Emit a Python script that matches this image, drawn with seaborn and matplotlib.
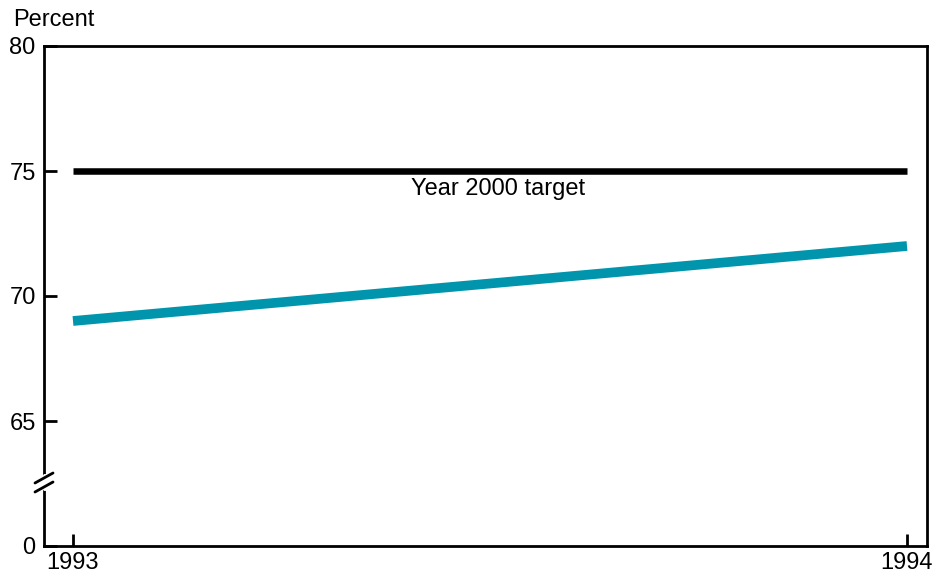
import numpy as np
import pandas as pd
from matplotlib import pyplot as plt
from matplotlib.lines import Line2D
import seaborn as sns

# Dados do grafico
years = [1993, 1994]
share = [69, 72]          # serie principal (percent)
target = [75, 75]         # meta do ano 2000
yticks = [60, 65, 70, 75, 80]
ytick_labels = ["0", "65", "70", "75", "80"]   # eixo quebrado: 60 aparece como 0

df = pd.DataFrame({"year": years, "share": share, "target": target})

sns.set_style("ticks")
plt.rcParams["font.family"] = ["Liberation Sans", "DejaVu Sans"]

fig = plt.figure(figsize=(9.35, 5.75), dpi=100)
ax = fig.add_axes([44 / 935, 1 - 546 / 575, (927 - 44) / 935, 500 / 575])

sns.lineplot(data=df, x="year", y="target", color="black", linewidth=4.7, ax=ax,
             solid_capstyle="butt")
sns.lineplot(data=df, x="year", y="share", color="#0095AC", linewidth=7, ax=ax,
             solid_capstyle="butt")

ax.text(1993.51, 74.3, "Year 2000 target", ha="center", va="center", fontsize=17,
        color="black")

ax.set_xlim(1993 - 29 / 834, 1994 + 20 / 834)
ax.set_ylim(60, 80)
ax.set_xticks(years)
ax.set_xticklabels([str(y) for y in years])
ax.set_yticks(yticks)
ax.set_yticklabels(ytick_labels)
ax.set_xlabel("")
ax.set_ylabel("")

for s in ax.spines.values():
    s.set_visible(True)
    s.set_linewidth(2)
    s.set_color("black")
ax.tick_params(direction="in", length=9, width=2, labelsize=17, colors="black")
ax.tick_params(axis="y", pad=6)
ax.tick_params(axis="x", pad=4)

fig.text(13 / 935, 1 - 20 / 575, "Percent", ha="left", va="center", fontsize=17,
         color="black")

# marcas de quebra do eixo
def px(x, y):
    return x / 935, 1 - y / 575

fig.add_artist(Line2D(*zip(px(44.5, 476), px(44.5, 489)), color="white", linewidth=3,
                      transform=fig.transFigure))
for dy in (0, 9):
    (x0, y0), (x1, y1) = px(35, 483 + dy), px(53, 473 + dy)
    fig.add_artist(Line2D([x0, x1], [y0, y1], color="black", linewidth=2,
                          transform=fig.transFigure))

fig.savefig("out.png", dpi=100)
